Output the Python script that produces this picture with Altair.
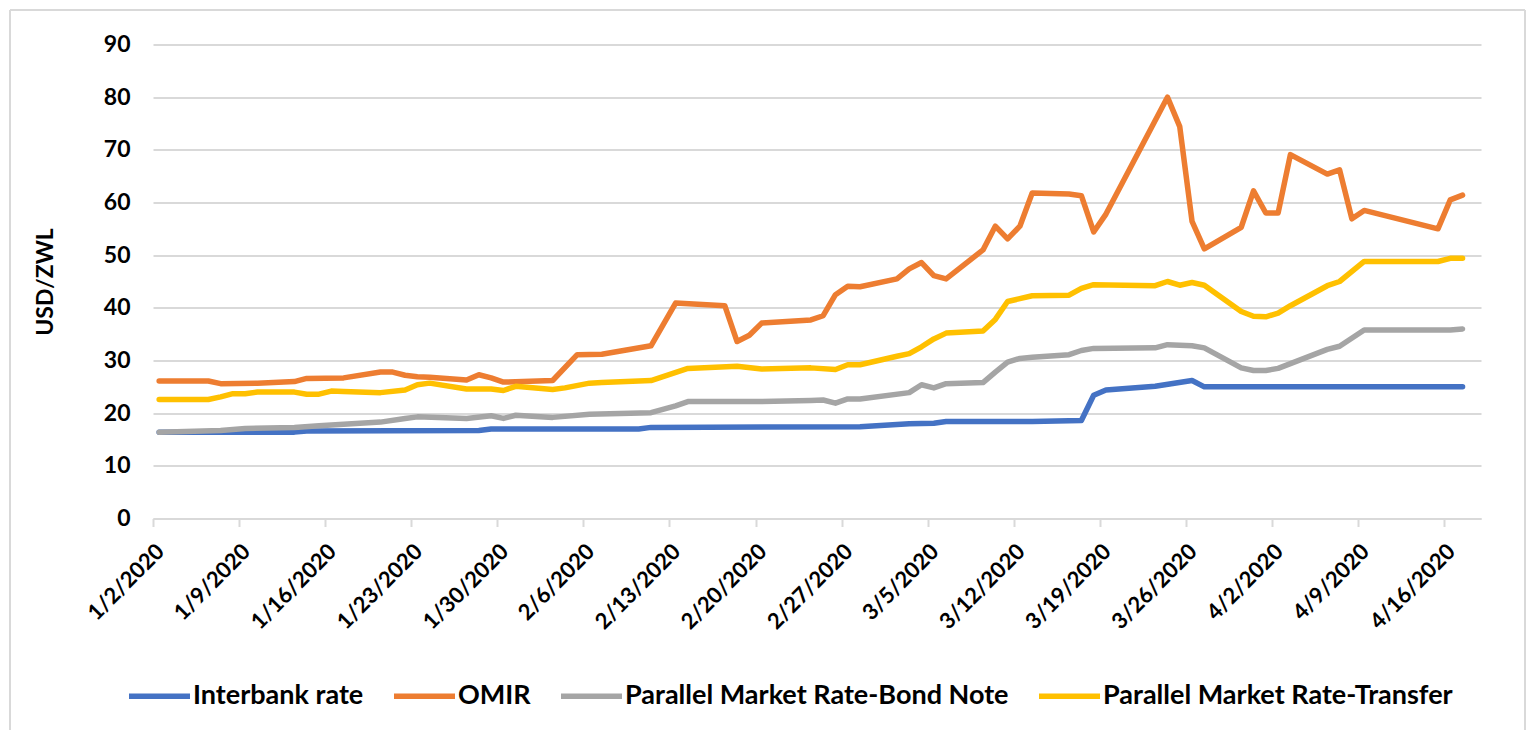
import altair as alt
import pandas as pd

# ---- data (USD/ZWL) ----
series_names = ["Interbank rate", "OMIR", "Parallel Market Rate-Bond Note", "Parallel Market Rate-Transfer"]
series_colors = ["#4472C4", "#ED7D31", "#A5A5A5", "#FFC000"]

interbank_dates = ["1/2", "1/13", "1/14", "1/28", "1/29", "2/10", "2/11", "2/28", "3/3", "3/5", "3/6",
                   "3/13", "3/17", "3/18", "3/19", "3/23", "3/26", "3/27", "4/17"]
interbank_values = [16.4, 16.4, 16.6, 16.7, 17.0, 17.0, 17.3, 17.4, 18.0, 18.1, 18.4,
                    18.4, 18.6, 23.4, 24.4, 25.1, 26.2, 25.0, 25.0]

omir_dates = ["1/2", "1/6", "1/7", "1/10", "1/13", "1/14", "1/17", "1/20", "1/21", "1/22", "1/23", "1/24",
              "1/27", "1/28", "1/29", "1/30", "2/3", "2/5", "2/7", "2/11", "2/13", "2/17", "2/18", "2/19",
              "2/20", "2/24", "2/25", "2/26", "2/27", "2/28", "3/2", "3/3", "3/4", "3/5", "3/6", "3/9",
              "3/10", "3/11", "3/12", "3/13", "3/16", "3/17", "3/18", "3/19", "3/24", "3/25", "3/26",
              "3/27", "3/30", "3/31", "4/1", "4/2", "4/3", "4/6", "4/7", "4/8", "4/9", "4/15", "4/16", "4/17"]
omir_values = [26.1, 26.1, 25.6, 25.7, 26.0, 26.6, 26.7, 27.8, 27.8, 27.2, 26.9, 26.8,
               26.3, 27.3, 26.7, 25.9, 26.2, 31.1, 31.2, 32.8, 40.9, 40.4, 33.6, 34.8,
               37.1, 37.7, 38.5, 42.5, 44.1, 44.0, 45.5, 47.4, 48.6, 46.1, 45.5, 51.0,
               55.5, 53.1, 55.5, 61.8, 61.6, 61.3, 54.4, 57.8, 80.0, 74.4, 56.4,
               51.2, 55.3, 62.2, 58.0, 58.0, 69.1, 65.4, 66.2, 56.9, 58.5, 55.0, 60.5, 61.4]

bond_dates = ["1/2", "1/7", "1/9", "1/13", "1/15", "1/20", "1/22", "1/23", "1/27", "1/29", "1/30", "1/31",
              "2/3", "2/6", "2/11", "2/13", "2/14", "2/20", "2/24", "2/25", "2/26", "2/27", "2/28", "3/3",
              "3/4", "3/5", "3/6", "3/9", "3/10", "3/11", "3/12", "3/13", "3/16", "3/17", "3/18", "3/23",
              "3/24", "3/26", "3/27", "3/30", "3/31", "4/1", "4/2", "4/6", "4/7", "4/9", "4/16", "4/17"]
bond_values = [16.4, 16.7, 17.1, 17.3, 17.6, 18.3, 19.0, 19.3, 19.0, 19.5, 19.0, 19.6,
               19.2, 19.8, 20.1, 21.4, 22.2, 22.2, 22.4, 22.5, 21.9, 22.7, 22.7, 23.9,
               25.4, 24.8, 25.6, 25.8, 27.8, 29.7, 30.4, 30.6, 31.1, 31.9, 32.3, 32.4,
               33.0, 32.8, 32.4, 28.6, 28.1, 28.1, 28.5, 32.1, 32.7, 35.8, 35.8, 36.0]

transfer_dates = ["1/2", "1/6", "1/7", "1/8", "1/9", "1/10", "1/13", "1/14", "1/15", "1/16", "1/17", "1/20",
                  "1/22", "1/23", "1/24", "1/27", "1/29", "1/30", "1/31", "2/3", "2/4", "2/6", "2/7", "2/11",
                  "2/14", "2/18", "2/20", "2/24", "2/26", "2/27", "2/28", "3/2", "3/3", "3/4", "3/5", "3/6",
                  "3/9", "3/10", "3/11", "3/13", "3/16", "3/17", "3/18", "3/23", "3/24", "3/25", "3/26",
                  "3/27", "3/30", "3/31", "4/1", "4/2", "4/3", "4/6", "4/7", "4/9", "4/15", "4/16", "4/17"]
transfer_values = [22.6, 22.6, 23.1, 23.7, 23.7, 24.0, 24.0, 23.6, 23.6, 24.2, 24.1, 23.9,
                   24.4, 25.4, 25.7, 24.6, 24.6, 24.3, 25.1, 24.5, 24.8, 25.7, 25.8, 26.2,
                   28.5, 28.9, 28.4, 28.6, 28.3, 29.2, 29.2, 30.8, 31.3, 32.6, 34.1, 35.2,
                   35.6, 37.8, 41.2, 42.3, 42.4, 43.7, 44.4, 44.2, 45.0, 44.3, 44.8,
                   44.3, 39.3, 38.4, 38.3, 39.0, 40.4, 44.2, 45.0, 48.8, 48.8, 49.4, 49.4]

tick_dates = ["1/2", "1/9", "1/16", "1/23", "1/30", "2/6", "2/13", "2/20", "2/27",
              "3/5", "3/12", "3/19", "3/26", "4/2", "4/9", "4/16"]
y_ticks = [0, 10, 20, 30, 40, 50, 60, 70, 80, 90]


def iso(md, hour=12):
    m, d = md.split("/")
    return f"2020-{int(m):02d}-{int(d):02d}T{hour:02d}:00:00"


rows = []
for name, ds, vs in zip(series_names,
                        [interbank_dates, omir_dates, bond_dates, transfer_dates],
                        [interbank_values, omir_values, bond_values, transfer_values]):
    for i, (d, v) in enumerate(zip(ds, vs)):
        rows.append({"series": name, "date": iso(d), "value": v, "order": i})
df = pd.DataFrame(rows)

tick_values = [alt.DateTime(year=2020, month=int(t.split("/")[0]), date=int(t.split("/")[1]))
               for t in tick_dates]

FONT = "Lato"
GRID = "#d9d9d9"

lines = alt.Chart(df).mark_line(strokeWidth=5.5, strokeCap="round", strokeJoin="round").encode(
    x=alt.X("date:T",
            scale=alt.Scale(domain=[alt.DateTime(year=2020, month=1, date=2),
                                    alt.DateTime(year=2020, month=4, date=19)]),
            axis=alt.Axis(values=tick_values, format="%-m/%-d/%Y", labelAngle=-45,
                          labelAlign="right", labelBaseline="middle", labelPadding=21, labelOffset=7,
                          labelFont=FONT, labelFontSize=22, labelFontWeight="bold", labelColor="#000",
                          tickSize=8, tickColor=GRID, tickWidth=2, domainColor=GRID, domainWidth=2,
                          grid=False, title=None, labelOverlap=False)),
    y=alt.Y("value:Q",
            scale=alt.Scale(domain=[0, 90], nice=False),
            axis=alt.Axis(values=y_ticks, title="USD/ZWL", titleFont=FONT, titleFontSize=23,
                          titleFontWeight="bold", titleColor="#000", titleX=-108, titleY=237,
                          titleAngle=-90, titleAlign="center", titleBaseline="middle",
                          labelFont=FONT, labelFontSize=23, labelFontWeight="bold", labelColor="#000",
                          labelPadding=23, domain=False, ticks=False,
                          grid=True, gridColor=GRID, gridWidth=2)),
    color=alt.Color("series:N",
                    scale=alt.Scale(domain=series_names, range=series_colors),
                    legend=alt.Legend(orient="none", direction="horizontal", legendX=-27, legendY=618,
                                      title=None, symbolType="stroke", symbolSize=3721,
                                      symbolStrokeWidth=5.5, labelFont=FONT, labelFontSize=27,
                                      labelFontWeight="bold", labelColor="#000", labelOffset=0,
                                      columnPadding=19, labelLimit=700)),
    order="order:Q",
)

frame_data = alt.Data(values=[{"k": 1}])
frame_left = alt.Chart(frame_data).mark_rule(color=GRID, strokeWidth=2).encode(
    x=alt.value(-143), y=alt.value(-34.5), y2=alt.value(720))
frame_top = alt.Chart(frame_data).mark_rule(color=GRID, strokeWidth=2).encode(
    x=alt.value(-143), x2=alt.value(1372), y=alt.value(-34.5))
frame_right = alt.Chart(frame_data).mark_rule(color=GRID, strokeWidth=2).encode(
    x=alt.value(1372), y=alt.value(-34.5), y2=alt.value(720))

chart = alt.layer(frame_left, frame_top, frame_right, lines).properties(
    width=1328, height=474,
    autosize=alt.AutoSizeParams(type="none"),
    padding={"left": 145, "top": 36.5, "right": 47, "bottom": 211.5},
    background="white",
).configure_view(stroke=None)

chart.save("out.html", embed_options={"renderer": "svg", "actions": False})
